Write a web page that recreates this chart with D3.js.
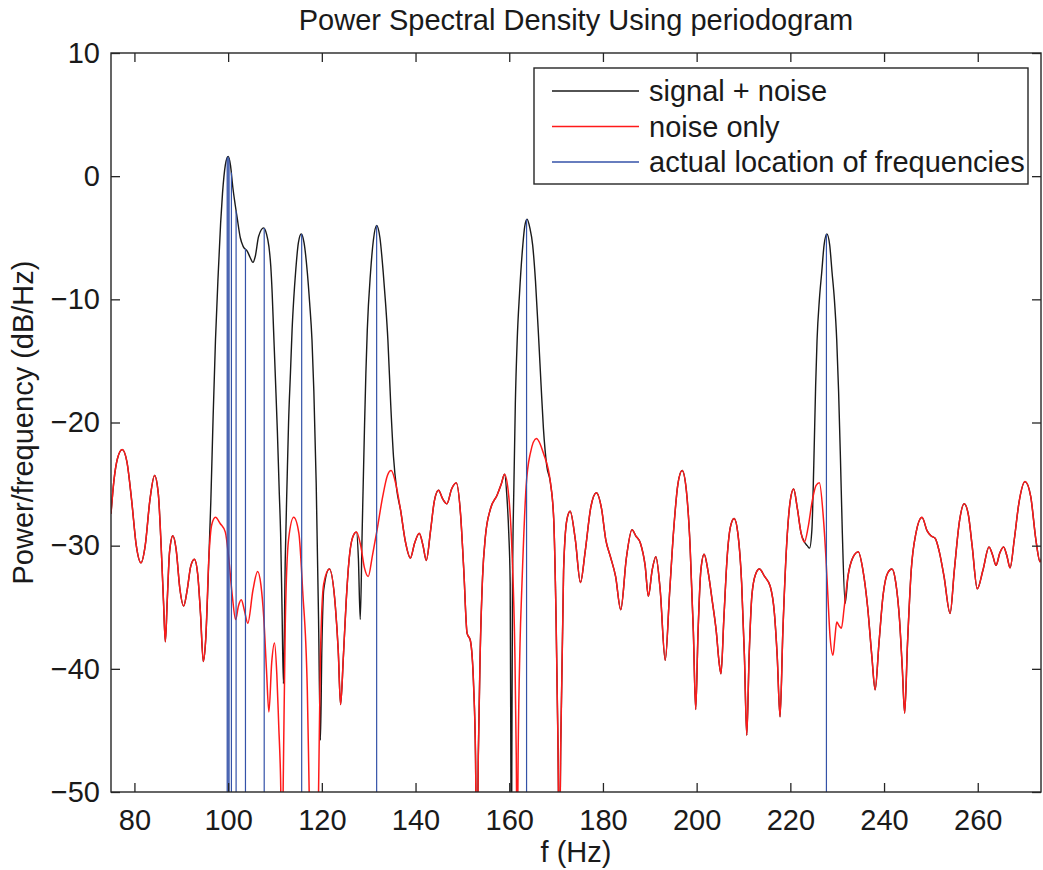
<!DOCTYPE html>
<html>
<head>
<meta charset="utf-8">
<script src="https://cdn.jsdelivr.net/npm/d3@7"></script>
<style>
  html, body { margin: 0; padding: 0; background: #fff; }
  svg { display: block; }
  text { font-family: 'Liberation Sans', Arial, Helvetica, sans-serif; fill: #1a1a1a; }
</style>
</head>
<body>
<svg id="chart"></svg>
<script>
// DATA
const freqTicks = [80, 100, 120, 140, 160, 180, 200, 220, 240, 260]
const dbTicks = [10, 0, -10, -20, -30, -40, -50]

// noise only periodogram, frequency (Hz) / dB
const noiseF = [
  75.0, 75.6, 76.4, 77.4, 78.4, 79.4, 80.4, 81.4, 82.3, 83.3, 84.3, 85.1, 85.7, 86.2, 86.6, 87.0, 87.5, 88.2, 88.9, 89.7,
  90.5, 91.3, 92.0, 92.8, 93.5, 94.1, 94.7, 95.2, 95.9, 96.5, 97.3, 98.3, 99.4, 100.1, 100.9, 101.6, 102.2, 102.8, 103.5, 104.2,
  105.3, 106.3, 107.0, 107.6, 108.2, 108.7, 109.3, 109.9, 110.4, 110.8, 111.2, 111.5, 111.8, 112.2, 112.9, 114.0, 115.1, 115.9, 116.9, 117.3,
  117.7, 118.3, 118.9, 119.3, 119.7, 120.4, 121.6, 122.9, 123.5, 124.0, 124.6, 125.2, 125.8, 126.6, 127.4, 128.3, 129.1, 129.9, 130.8, 131.8,
  133.0, 134.0, 134.8, 135.8, 136.8, 137.8, 138.9, 139.8, 140.8, 141.6, 142.3, 143.2, 144.0, 144.9, 145.8, 146.7, 147.7, 148.7, 149.6, 150.3,
  151.0, 151.7, 152.4, 152.8, 153.1, 153.4, 153.8, 154.3, 154.9, 156.0, 157.4, 158.3, 159.0, 159.9, 160.6, 161.2, 161.5, 161.7, 161.9, 162.3,
  162.7, 163.6, 164.5, 165.8, 167.3, 168.8, 169.5, 170.0, 170.4, 170.7, 171.0, 171.6, 172.3, 173.0, 174.1, 175.2, 176.2, 177.4, 178.6, 179.7,
  180.6, 181.6, 182.7, 183.8, 185.0, 186.2, 187.0, 188.0, 189.0, 189.7, 190.5, 191.3, 192.2, 193.3, 194.2, 195.1, 196.0, 196.9, 197.8, 198.6,
  199.3, 199.8, 200.3, 200.9, 201.6, 202.4, 203.3, 204.2, 204.8, 205.2, 205.8, 206.5, 207.2, 208.0, 208.8, 209.6, 210.2, 210.7, 211.2, 211.8,
  212.6, 213.4, 214.5, 215.7, 216.6, 217.2, 217.8, 218.4, 219.2, 220.0, 220.7, 221.5, 222.3, 223.0, 223.8, 224.7, 225.5, 226.2, 227.0, 227.6,
  228.0, 228.5, 229.1, 229.5, 229.9, 230.4, 230.9, 231.5, 232.3, 233.3, 234.5, 235.5, 236.5, 237.4, 238.1, 238.9, 239.8, 240.8, 241.7, 242.5,
  243.3, 243.9, 244.4, 245.0, 245.8, 246.8, 248.1, 249.2, 250.0, 250.9, 251.8, 252.8, 254.1, 255.0, 256.1, 257.1, 258.0, 258.8, 259.9, 261.1,
  262.4, 263.2, 263.9, 264.7, 265.5, 266.2, 266.9, 267.8, 268.8, 270.1, 271.3, 272.4, 273.3, 274.0
]
const noiseDb = [
  -27.4, -24.8, -22.9, -22.2, -23.2, -26.3, -30.0, -31.4, -30.0, -26.3, -24.3, -25.8, -30.0, -34.5, -37.8, -34.5, -30.5, -29.2, -30.3, -33.5,
  -34.9, -33.5, -31.7, -31.1, -32.3, -35.5, -39.4, -37.7, -30.9, -28.3, -27.7, -28.2, -28.9, -30.9, -34.1, -36.0, -34.9, -34.4, -35.3, -36.3,
  -33.6, -32.1, -33.2, -35.8, -40.2, -43.5, -39.5, -37.9, -40.5, -44.6, -49.0, -56.0, -48.0, -36.3, -29.5, -27.7, -29.0, -33.6, -41.7, -50.0,
  -58.0, -64.0, -58.0, -50.0, -39.0, -33.1, -31.9, -35.0, -38.5, -42.9, -39.0, -34.5, -31.2, -29.3, -28.9, -30.0, -31.8, -32.5, -30.8, -28.7,
  -26.0, -24.3, -23.9, -25.0, -27.1, -29.6, -31.0, -29.8, -29.0, -30.0, -31.2, -28.8, -26.4, -25.5, -26.2, -26.6, -25.4, -24.9, -27.4, -32.0,
  -37.1, -37.7, -41.4, -47.0, -58.0, -47.0, -38.7, -32.6, -29.3, -27.0, -25.9, -25.0, -24.2, -26.0, -30.6, -38.7, -47.0, -56.0, -47.0, -38.0,
  -33.3, -25.2, -22.5, -21.3, -22.5, -24.9, -27.9, -36.0, -46.0, -56.0, -46.0, -32.0, -27.9, -27.2, -29.5, -33.0, -30.5, -26.9, -25.7, -27.0,
  -29.5, -30.9, -32.5, -35.2, -31.0, -28.7, -29.2, -29.8, -31.6, -34.1, -32.0, -30.9, -33.5, -39.3, -34.0, -28.7, -25.0, -23.9, -25.5, -30.0,
  -37.0, -43.3, -37.0, -32.0, -30.7, -32.0, -34.4, -37.0, -39.5, -40.4, -36.0, -31.0, -28.5, -27.8, -29.0, -33.0, -39.0, -45.4, -39.0, -34.0,
  -32.3, -31.9, -32.5, -33.3, -35.5, -39.0, -43.9, -37.0, -30.0, -26.3, -25.4, -27.0, -29.0, -29.7, -28.5, -26.3, -25.1, -24.9, -27.5, -31.0,
  -34.0, -37.5, -38.9, -37.5, -36.2, -36.5, -36.7, -35.0, -32.5, -31.0, -30.5, -32.0, -35.0, -39.0, -41.7, -38.0, -34.0, -32.2, -31.9, -33.0,
  -36.0, -40.0, -43.6, -38.0, -32.0, -29.0, -27.7, -28.8, -29.2, -29.4, -30.5, -32.5, -35.5, -32.0, -28.0, -26.6, -27.5, -30.0, -33.5, -32.0,
  -30.1, -30.8, -31.6, -30.6, -30.1, -30.8, -31.8, -29.5, -26.5, -24.8, -26.0, -29.5, -31.3, -30.4
]

// signal + noise, only where it leaves the noise curve
const signalNear100F = [95.9, 96.3, 96.8, 97.3, 97.9, 98.4, 98.8, 99.4, 100.0, 100.5, 101.0, 101.5, 101.9, 102.6, 103.2, 104.1, 104.7, 105.3, 105.8, 106.5,
  107.6, 108.2, 108.7, 109.1, 109.4, 109.7, 110.1, 110.5, 110.9, 111.2, 111.5, 111.8, 112.2, 112.6, 112.9, 113.3, 113.65, 114.0, 114.4, 115.0,
  115.6, 116.2, 116.9, 117.4, 117.9, 118.3, 118.8, 119.3, 119.7, 120.0, 120.4, 121.6]
const signalNear100Db = [-30.9, -26.5, -19.5, -13.3, -7.8, -3.8, -1.4, 0.9, 1.6, 0.9, -0.9, -2.3, -3.3, -5.0, -5.7, -6.1, -6.6, -7.0, -6.5, -4.9,
  -4.2, -4.7, -5.7, -7.3, -9.5, -12.5, -16.5, -20.6, -25.5, -29.0, -35.0, -41.2, -31.0, -24.5, -20.0, -16.0, -12.5, -10.0, -7.8, -5.4,
  -4.7, -5.4, -7.8, -10.3, -13.3, -17.5, -25.0, -36.0, -45.8, -38.5, -33.6, -31.9]
const signalNear132F = [127.4, 127.8, 128.2, 128.6, 129.1, 129.4, 129.7, 130.4, 131.0, 131.7, 132.4, 133.1, 133.6, 134.1, 134.7, 135.3, 136.0, 136.8]
const signalNear132Db = [-28.9, -31.0, -36.0, -29.0, -20.5, -16.0, -12.5, -7.8, -5.2, -4.0, -5.0, -7.8, -10.3, -13.3, -18.5, -22.8, -25.5, -27.1]
const signalNear164F = [159.0, 159.5, 159.9, 160.2, 160.35, 160.45, 160.55, 160.7, 161.0, 161.3, 161.7, 162.2, 162.9, 163.3, 163.8, 164.4, 165.0, 165.6,
  166.3, 166.8, 167.3, 168.0, 168.8]
const signalNear164Db = [-24.2, -26.0, -29.0, -33.0, -48.0, -60.0, -48.0, -33.3, -25.0, -18.5, -13.3, -9.5, -5.6, -4.1, -3.5, -4.2, -5.6, -8.5,
  -13.3, -17.0, -20.5, -23.5, -24.9]
const signalNear228F = [223.0, 223.6, 224.1, 224.6, 225.0, 225.4, 225.7, 226.2, 226.7, 227.2, 227.8, 228.4, 228.9, 229.4, 229.9, 230.3, 230.7, 231.1,
  231.7, 232.3]
const signalNear228Db = [-29.7, -30.0, -30.2, -28.7, -23.5, -17.0, -13.3, -10.0, -7.8, -5.6, -4.7, -5.6, -7.8, -10.0, -13.3, -17.5, -23.0, -29.0,
  -34.7, -32.5]

// actual location of frequencies and the height the marker reaches
const actualF = [99.8, 100.0, 100.2, 100.7, 101.7, 103.7, 107.7, 115.7, 131.7, 163.7, 227.7]
const actualDb = [1.5, 1.6, 1.4, 0.3, -2.8, -5.9, -4.2, -4.7, -4.0, -3.5, -4.7]

const legendLabels = ['signal + noise', 'noise only', 'actual location of frequencies']
const seriesColors = ['#1a1a1a', '#ff1a1a', '#3452a8']

// MARGIN CONVENTION
const totalWidth = 1043,
  totalHeight = 870,
  margin = { left: 111, top: 53, right: 2, bottom: 78 },
  width = totalWidth - margin.left - margin.right,
  height = totalHeight - margin.top - margin.bottom

const svg = d3.select('#chart')
  .attr('width', totalWidth)
  .attr('height', totalHeight)

// SCALES
const x = d3.scaleLinear().domain([75, 273.5]).range([0, width])
const y = d3.scaleLinear().domain([-50, 10]).range([height, 0])

const plot = svg.append('g')
  .attr('transform', `translate(${margin.left}, ${margin.top})`)

plot.append('clipPath').attr('id', 'clip')
  .append('rect').attr('width', width).attr('height', height)

// BUILD SERIES
const noise = noiseF.map((f, i) => ({ f, db: noiseDb[i] }))
const segments = [
  [signalNear100F, signalNear100Db],
  [signalNear132F, signalNear132Db],
  [signalNear164F, signalNear164Db],
  [signalNear228F, signalNear228Db]
].map(([fs, dbs]) => fs.map((f, i) => ({ f, db: dbs[i] })))

const signal = noise
  .filter(d => !segments.some(s => d.f >= s[0].f && d.f <= s[s.length - 1].f))
  .concat(segments.flat())
  .sort((a, b) => a.f - b.f)

const line = d3.line()
  .x(d => x(d.f))
  .y(d => y(d.db))
  .curve(d3.curveMonotoneX)

const curves = plot.append('g').attr('clip-path', 'url(#clip)')

curves.append('path')
  .datum(signal)
  .attr('d', line)
  .attr('fill', 'none')
  .attr('stroke', seriesColors[0])
  .attr('stroke-width', 1.4)

curves.append('path')
  .datum(noise)
  .attr('d', line)
  .attr('fill', 'none')
  .attr('stroke', seriesColors[1])
  .attr('stroke-width', 1.5)

curves.selectAll('line.actual')
  .data(actualF.map((f, i) => ({ f, db: actualDb[i] })))
  .enter()
  .append('line')
    .attr('class', 'actual')
    .attr('x1', d => x(d.f))
    .attr('x2', d => x(d.f))
    .attr('y1', y(-50))
    .attr('y2', d => y(d.db))
    .attr('stroke', seriesColors[2])
    .attr('stroke-width', 1.2)

// AXES (matlab style: ticks inside, box all round)
const tickLen = 9
const axisColor = '#262626'
const fontSize = 29

plot.append('g')
  .attr('transform', `translate(0, ${height})`)
  .call(d3.axisBottom(x).tickValues(freqTicks).tickSize(-tickLen).tickPadding(17).tickSizeOuter(0))
plot.append('g')
  .call(d3.axisTop(x).tickValues(freqTicks).tickSize(-tickLen).tickFormat('').tickSizeOuter(0))
plot.append('g')
  .call(d3.axisLeft(y).tickValues(dbTicks).tickSize(-tickLen).tickPadding(11).tickSizeOuter(0)
    .tickFormat(d => d < 0 ? '\u2212' + Math.abs(d) : d))
plot.append('g')
  .attr('transform', `translate(${width}, 0)`)
  .call(d3.axisRight(y).tickValues(dbTicks).tickSize(-tickLen).tickFormat('').tickSizeOuter(0))

plot.selectAll('.domain').remove()
plot.selectAll('.tick line').attr('stroke', axisColor).attr('stroke-width', 1.3)
plot.selectAll('.tick text')
  .attr('font-size', fontSize)
  .attr('font-family', "'Liberation Sans', Arial, sans-serif")
  .attr('fill', '#1a1a1a')

plot.append('rect')
  .attr('width', width)
  .attr('height', height)
  .attr('fill', 'none')
  .attr('stroke', axisColor)
  .attr('stroke-width', 1.4)

// TITLES
svg.append('text')
  .attr('x', margin.left + width / 2)
  .attr('y', 30)
  .attr('text-anchor', 'middle')
  .attr('font-size', fontSize)
  .text('Power Spectral Density Using periodogram')

svg.append('text')
  .attr('x', margin.left + width / 2)
  .attr('y', 862)
  .attr('text-anchor', 'middle')
  .attr('font-size', fontSize)
  .text('f (Hz)')

svg.append('text')
  .attr('transform', `translate(33, ${margin.top + height / 2}) rotate(-90)`)
  .attr('text-anchor', 'middle')
  .attr('font-size', fontSize)
  .text('Power/frequency (dB/Hz)')

// LEGEND
const legend = svg.append('g')
  .attr('transform', 'translate(534, 68)')

legend.append('rect')
  .attr('width', 494)
  .attr('height', 116)
  .attr('fill', '#fff')
  .attr('stroke', axisColor)
  .attr('stroke-width', 1.4)

legendLabels.forEach((label, i) => {
  const row = legend.append('g')
    .attr('transform', `translate(0, ${23 + i * 35.5})`)
  row.append('line')
    .attr('x1', 18).attr('x2', 105)
    .attr('stroke', seriesColors[i])
    .attr('stroke-width', 1.4)
  row.append('text')
    .attr('x', 115)
    .attr('y', 10)
    .attr('font-size', fontSize)
    .text(label)
})
</script>
</body>
</html>
